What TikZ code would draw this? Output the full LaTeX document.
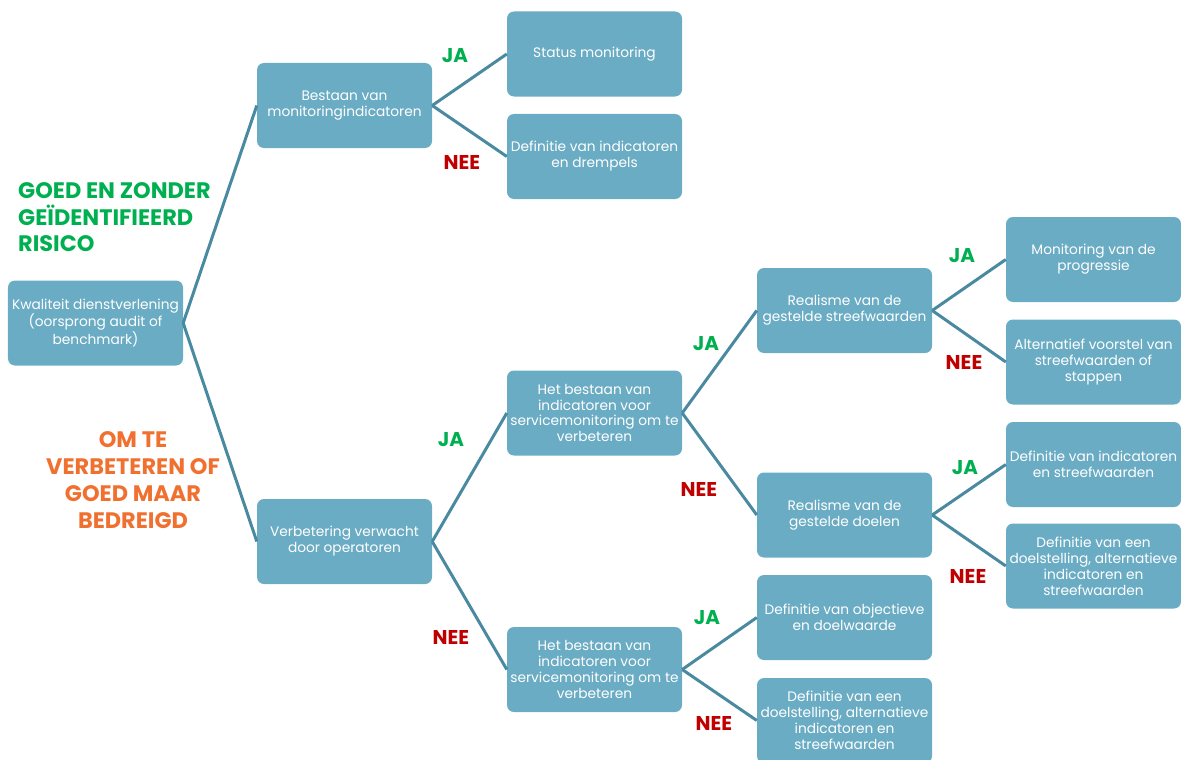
\documentclass[tikz,border=0pt]{standalone}
\usepackage{fontspec}
\setmainfont{Poppins}
\definecolor{boxfill}{HTML}{6AACC4}
\definecolor{linkcol}{HTML}{4A8AA0}
\definecolor{yesgreen}{HTML}{00B050}
\definecolor{nored}{HTML}{C00000}
\definecolor{warnorange}{HTML}{F07030}
\tikzset{
  stepbox/.style={fill=boxfill, rounded corners=7bp, minimum width=175bp, minimum height=85bp,
    inner sep=0pt, align=center, text=white,
    font=\fontsize{13.8}{16}\selectfont},
  link/.style={draw=linkcol, line width=3bp},
  yes/.style={text=yesgreen, font=\fontsize{20}{22}\selectfont\bfseries},
  no/.style={text=nored, font=\fontsize{20}{22}\selectfont\bfseries},
  biglabel/.style={font=\fontsize{22.5}{27}\selectfont\bfseries, inner sep=0pt}
}
\begin{document}
\begin{tikzpicture}[x=1bp,y=-1bp]
\useasboundingbox (0,0) rectangle (1181,760);

% boxes
\node[stepbox] (root) at (95.5,323) {Kwaliteit dienstverlening\\(oorsprong audit of\\benchmark)};
\node[stepbox] (mon) at (344.5,105.5) {Bestaan van\\monitoringindicatoren};
\node[stepbox] (status) at (594.5,54) {Status monitoring};
\node[stepbox] (defdrem) at (594.5,156.5) {Definitie van indicatoren\\en drempels};
\node[stepbox] (verb) at (344.5,541.5) {Verbetering verwacht\\door operatoren};
\node[stepbox] (indA) at (594.5,413) {Het bestaan van\\indicatoren voor\\servicemonitoring om te\\verbeteren};
\node[stepbox] (indB) at (594.5,669.5) {Het bestaan van\\indicatoren voor\\servicemonitoring om te\\verbeteren};
\node[stepbox] (realS) at (844.5,310.5) {Realisme van de\\gestelde streefwaarden};
\node[stepbox] (realD) at (844.5,515) {Realisme van de\\gestelde doelen};
\node[stepbox] (defobj) at (844.5,617.5) {Definitie van objectieve\\en doelwaarde};
\node[stepbox] (defdoelB) at (844.5,720.5) {Definitie van een\\doelstelling, alternatieve\\indicatoren en\\streefwaarden};
\node[stepbox] (progr) at (1093.5,259.5) {Monitoring van de\\progressie};
\node[stepbox] (altvoor) at (1093.5,362) {Alternatief voorstel van\\streefwaarden of\\stappen};
\node[stepbox] (defstr) at (1093.5,464.5) {Definitie van indicatoren\\en streefwaarden};
\node[stepbox] (defdoelA) at (1093.5,566) {Definitie van een\\doelstelling, alternatieve\\indicatoren en\\streefwaarden};

% connectors
\draw[link] (root.east) -- (mon.west);
\draw[link] (root.east) -- (verb.west);
\draw[link] (mon.east) -- (status.west);
\draw[link] (mon.east) -- (defdrem.west);
\draw[link] (verb.east) -- (indA.west);
\draw[link] (verb.east) -- (indB.west);
\draw[link] (indA.east) -- (realS.west);
\draw[link] (indA.east) -- (realD.west);
\draw[link] (indB.east) -- (defobj.west);
\draw[link] (indB.east) -- (defdoelB.west);
\draw[link] (realS.east) -- (progr.west);
\draw[link] (realS.east) -- (altvoor.west);
\draw[link] (realD.east) -- (defstr.west);
\draw[link] (realD.east) -- (defdoelA.west);

% branch answers
\node[yes] (ja1) at (455,56) {JA};
\node[no] (nee1) at (462,163) {NEE};
\node[yes] (ja2) at (451,440) {JA};
\node[no] (nee2) at (451,638) {NEE};
\node[yes] (ja3) at (706,344) {JA};
\node[no] (nee3) at (699,490) {NEE};
\node[yes] (ja4) at (962,256) {JA};
\node[no] (nee4) at (964,363) {NEE};
\node[yes] (ja5) at (965,468) {JA};
\node[no] (nee5) at (968,577) {NEE};
\node[yes] (ja6) at (707,618) {JA};
\node[no] (nee6) at (714,723) {NEE};

% assessment categories
\node[biglabel, text=yesgreen, anchor=north west, align=left] (good) at (18,182)
  {GOED EN ZONDER\\GEÏDENTIFIEERD\\RISICO};
\node[biglabel, text=warnorange, align=center] (improve) at (133,480)
  {OM TE\\VERBETEREN OF\\GOED MAAR\\BEDREIGD};
\end{tikzpicture}
\end{document}
